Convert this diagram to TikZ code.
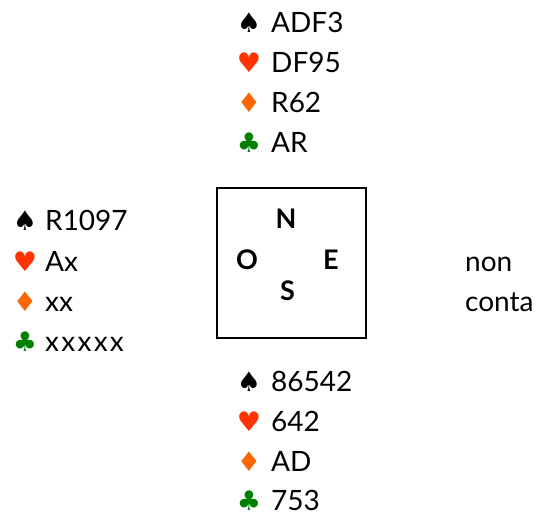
\documentclass[tikz,border=0pt]{standalone}
\usepackage{fontspec}
\setmainfont{Lato}
\newfontfamily\suitfont{DejaVu Sans}
\definecolor{heartc}{HTML}{FF3300}
\definecolor{diamc}{HTML}{FF6600}
\definecolor{clubc}{HTML}{008000}
\begin{document}
\begin{tikzpicture}[x=1pt,y=-1pt,
  card/.style={anchor=base west,inner sep=0pt,text depth=0pt,font=\fontsize{28}{30}\selectfont},
  suit/.style={anchor=base,inner sep=0pt,text depth=0pt,font=\suitfont\fontsize{27}{29}\selectfont},
  dir/.style={inner sep=0pt,font=\fontsize{27}{29}\selectfont\bfseries},
  frame/.style={draw=black,line width=1.2pt}]
\useasboundingbox (0,0) rectangle (536,516);
% North
\node[suit] (ns) at (249,33) {♠};
\node[card] (nst) at (271,33) {ADF3};
\node[suit,text=heartc] (nh) at (249,73) {♥};
\node[card] (nht) at (271,73) {DF95};
\node[suit,text=diamc] (nd) at (249,113) {♦};
\node[card] (ndt) at (271,113) {R62};
\node[suit,text=clubc] (nc) at (249,153) {♣};
\node[card] (nct) at (271,153) {AR};
% West
\node[suit] (ws) at (25,231) {♠};
\node[card] (wst) at (45,231) {R1097};
\node[suit,text=heartc] (wh) at (25,271) {♥};
\node[card] (wht) at (45,271) {Ax};
\node[suit,text=diamc] (wd) at (25,311) {♦};
\node[card] (wdt) at (45,311) {xx};
\node[suit,text=clubc] (wc) at (25,351) {♣};
\node[card] (wct) at (45,351) {\addfontfeatures{LetterSpace=8}xxxxx};
% South
\node[suit] (ss) at (249,391) {♠};
\node[card] (sst) at (271,391) {86542};
\node[suit,text=heartc] (sh) at (249,431) {♥};
\node[card] (sht) at (271,431) {642};
\node[suit,text=diamc] (sd) at (249,471) {♦};
\node[card] (sdt) at (271,471) {AD};
\node[suit,text=clubc] (sc) at (249,510) {♣};
\node[card] (sct) at (271,510) {753};
% East
\node[card] (e1) at (465,271) {non};
\node[card] (e2) at (465,311) {conta};
% Table
\node[frame,minimum width=149pt,minimum height=150pt,inner sep=0pt] (tbl) at (291.5,263) {};
\node[dir] (dn) at (286,219) {N};
\node[dir] (do) at (247,259.5) {O};
\node[dir] (de) at (331,259.5) {E};
\node[dir] (ds) at (287.5,290.5) {S};
\end{tikzpicture}
\end{document}
